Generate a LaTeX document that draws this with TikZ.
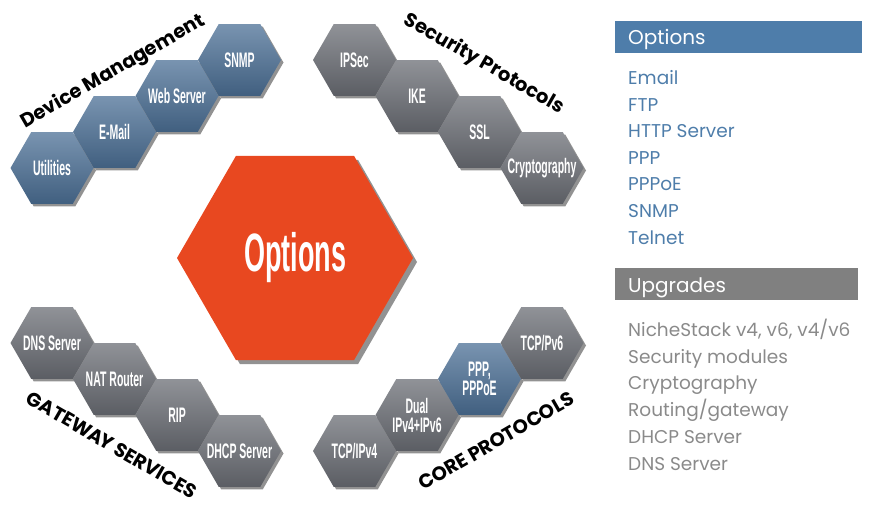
\documentclass[tikz,border=0pt]{standalone}
\usepackage{fontspec}
\setmainfont{Poppins}
\newfontfamily\condfont[FakeStretch=0.5]{Liberation Sans}
\usetikzlibrary{shapes.geometric,shadows}

\begin{document}
\begin{tikzpicture}[x=1pt, y=-1pt,
    hexa/.style={regular polygon, regular polygon sides=6, minimum size=83pt, inner sep=0pt},
    hexshadow/.style={drop shadow={shadow xshift=2.5pt, shadow yshift=-2.5pt, fill=black!85}},
    bluehex/.style={hexa, hexshadow, top color=hex-blue!75!white, bottom color=hex-blue!85!black},
    grayhex/.style={hexa, hexshadow, top color=hex-gray!75!white, bottom color=hex-gray!85!black},
    hexlabel/.style={text=white, align=center, font=\condfont\bfseries\fontsize{21}{19}\selectfont},
    grouptitle/.style={font=\bfseries\fontsize{19.5}{20}\selectfont},
    bar/.style={anchor=north west, inner sep=0pt, minimum height=32pt},
    listitem/.style={anchor=base west, inner sep=0pt, font=\fontsize{18.5}{20}\selectfont}]
    \definecolor{hex-blue}{RGB}{76,112,150}
    \definecolor{hex-gray}{RGB}{107,110,117}
    \definecolor{hex-orange}{RGB}{232,72,32}
    \definecolor{list-blue}{RGB}{78,125,170}
    \definecolor{list-gray}{RGB}{138,138,138}
    \useasboundingbox (0,0) rectangle (875,505);
    % centre
    \node[hexa, minimum size=236pt, fill=hex-orange,
      drop shadow={shadow xshift=4pt, shadow yshift=-4pt, fill=black!85}] (options) at (295,258) {};
    \node[text=white, font=\condfont\bfseries\fontsize{54}{54}\selectfont] (optionstext) at (options) {Options};
    % device management
    \node[bluehex, label={[hexlabel]center:Utilities}] (util) at (52,168) {};
    \node[bluehex, label={[hexlabel]center:E-Mail}] (email) at (114.5,132) {};
    \node[bluehex, label={[hexlabel]center:Web Server}] (web) at (177,96) {};
    \node[bluehex, label={[hexlabel]center:SNMP}] (snmp) at (239.5,60) {};
    \node[grouptitle, rotate=30] (devmgmt) at (113,72) {Device Management};
    % security protocols
    \node[grayhex, label={[hexlabel]center:IPSec}] (ipsec) at (354.5,60) {};
    \node[grayhex, label={[hexlabel]center:IKE}] (ike) at (417,96) {};
    \node[grayhex, label={[hexlabel]center:SSL}] (ssl) at (479.5,132) {};
    \node[grayhex, label={[hexlabel]center:Cryptography}] (crypto) at (542,168) {};
    \node[grouptitle, rotate=-30] (secprot) at (484,64) {Security Protocols};
    % gateway services
    \node[grayhex, label={[hexlabel]center:DNS Server}] (dns) at (52,343) {};
    \node[grayhex, label={[hexlabel]center:NAT Router}] (nat) at (114.5,379) {};
    \node[grayhex, label={[hexlabel]center:RIP}] (rip) at (177,415) {};
    \node[grayhex, label={[hexlabel]center:DHCP Server}] (dhcp) at (239.5,451) {};
    \node[grouptitle, rotate=-30] (gateway) at (112,445) {GATEWA\kern-2.5pt Y SERVICES};
    % core protocols
    \node[grayhex, label={[hexlabel]center:TCP/IPv4}] (tcpfour) at (354.5,451) {};
    \node[grayhex, label={[hexlabel]center:{Dual\\IPv4+IPv6}}] (dual) at (417,415) {};
    \node[bluehex, label={[hexlabel]center:{PPP,\\PPPoE}}] (ppp) at (479.5,379) {};
    \node[grayhex, label={[hexlabel]center:TCP/Pv6}] (tcpsix) at (542,343) {};
    \node[grouptitle, rotate=30] (coreprot) at (496,441) {CORE PROTOCOLS};
    % lists
    \node[bar, fill=list-blue, minimum width=247pt] (optbar) at (615,21) {};
    \node[listitem, text=white, font=\fontsize{20}{22}\selectfont] (opthead) at (628,45) {Options};
    \foreach \entry [count=\i] in {Email, FTP, HTTP Server, PPP, PPPoE, SNMP, Telnet}
      \node[listitem, text=list-blue] (opt\i) at (628,{84.5+26.6*(\i-1)}) {\entry};
    \node[bar, fill=gray!100!white, minimum width=243pt] (upgbar) at (615,268) {};
    \node[listitem, text=white, font=\fontsize{20}{22}\selectfont] (upghead) at (628,292) {Upgrades};
    \foreach \entry [count=\i] in {{NicheStack v4, v6, v4/v6}, Security modules, Cryptography,
      Routing/gateway, DHCP Server, DNS Server}
      \node[listitem, text=list-gray] (upg\i) at (628,{336.5+26.7*(\i-1)}) {\entry};
\end{tikzpicture}
\end{document}
